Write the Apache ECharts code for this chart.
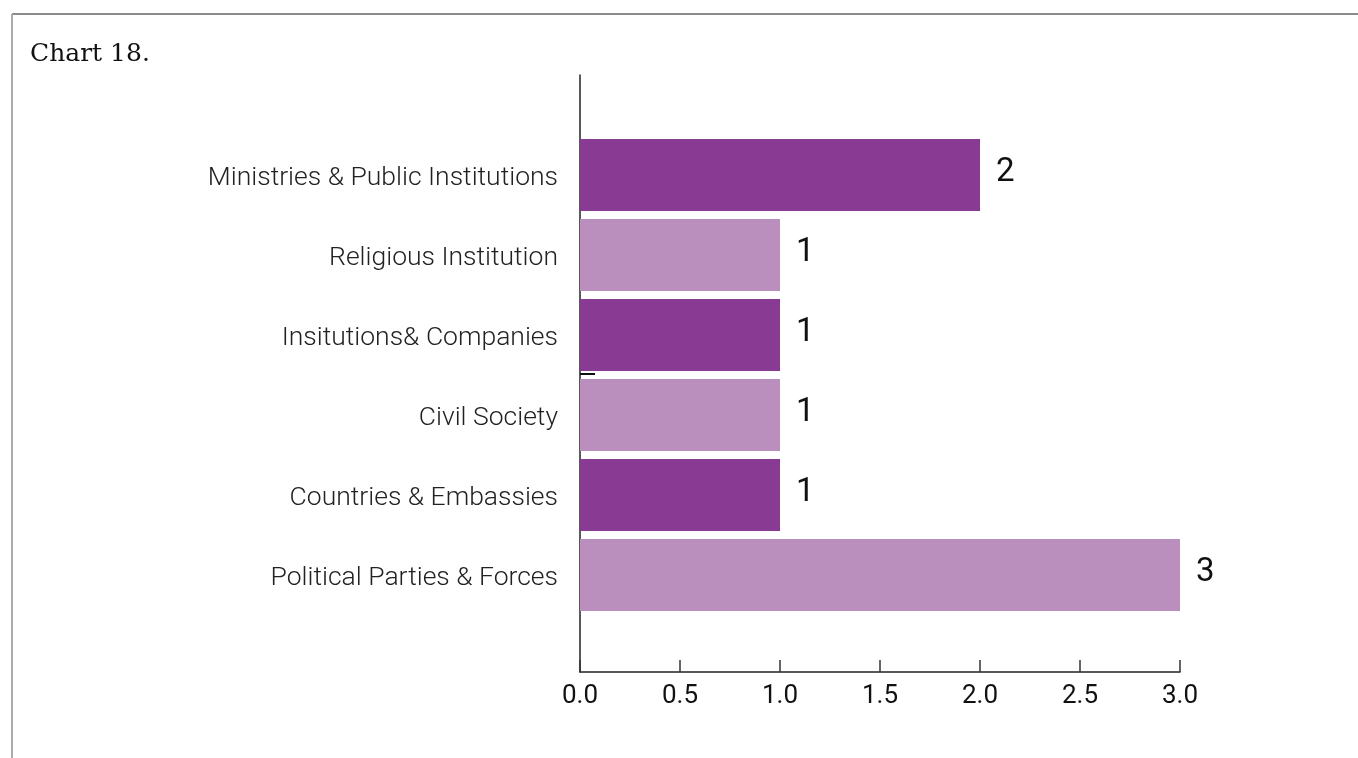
<!DOCTYPE html>
<html>
<head>
<meta charset="utf-8">
<script src="https://cdn.jsdelivr.net/npm/echarts@6/dist/echarts.min.js"></script>
<style>
  html, body { margin: 0; padding: 0; background: #fff; }
  #chart { width: 1358px; height: 758px; }
</style>
</head>
<body>
<div id="chart"></div>
<script>
// Categories, listed top to bottom
const categories = [
  'Ministries & Public Institutions',
  'Religious Institution',
  'Insitutions& Companies',
  'Civil Society',
  'Countries & Embassies',
  'Political Parties & Forces'
];
// Count per category
const values = [2, 1, 1, 1, 1, 3];
// Alternating bar colours
const barColors = ['#893A93', '#BB8FBD'];
// Value-axis tick range
const xMin = 0, xMax = 3, xStep = 0.5;

const font = 'Roboto, "Noto Sans", sans-serif';

const chart = echarts.init(document.getElementById('chart'), null, { renderer: 'canvas' });

chart.setOption({
  animation: false,
  backgroundColor: '#fff',
  title: {
    text: 'Chart 18.',
    left: 25,
    top: 37,
    textStyle: { fontFamily: '"DejaVu Serif", serif', fontSize: 25, fontWeight: 'normal', color: '#111' }
  },
  graphic: [
    { type: 'line', shape: { x1: 12, y1: 14, x2: 1358, y2: 14 }, style: { stroke: '#8c8c8c', lineWidth: 2 } },
    { type: 'line', shape: { x1: 12, y1: 14, x2: 12, y2: 758 }, style: { stroke: '#ababab', lineWidth: 2 } }
  ],
  grid: [
    // bars
    { left: 580, right: 178, top: 135, bottom: 143, containLabel: false },
    // axes frame
    { left: 580, right: 178, top: 75, bottom: 86, containLabel: false }
  ],
  xAxis: [
    { gridIndex: 0, type: 'value', min: xMin, max: xMax, show: false },
    {
      gridIndex: 1, type: 'value', min: xMin, max: xMax, interval: xStep,
      axisLine: { show: true, lineStyle: { color: '#222', width: 1.5 } },
      axisTick: { show: true, inside: true, length: 12, lineStyle: { color: '#333', width: 1.5 } },
      axisLabel: {
        fontFamily: font, fontSize: 26, color: '#111', margin: 11,
        formatter: v => v.toFixed(1)
      },
      splitLine: { show: false }
    }
  ],
  yAxis: [
    {
      gridIndex: 0, type: 'category', data: categories, inverse: true,
      axisLine: { show: false },
      axisTick: { show: false },
      axisLabel: {
        fontFamily: font, fontSize: 26.5, fontWeight: 300, color: '#222', margin: 22,
        verticalAlign: 'top', lineHeight: 6
      }
    },
    {
      gridIndex: 1, type: 'value', min: 0, max: 2, interval: 1,
      axisLine: { show: true, lineStyle: { color: '#222', width: 1.5 } },
      axisTick: { show: true, inside: true, length: 15, customValues: [1], lineStyle: { color: '#111', width: 2 } },
      axisLabel: { show: false },
      splitLine: { show: false }
    }
  ],
  series: [
    {
      type: 'bar',
      xAxisIndex: 0,
      yAxisIndex: 0,
      barCategoryGap: '10%',
      data: values.map((v, i) => ({ value: v, itemStyle: { color: barColors[i % 2] } })),
      label: {
        show: true,
        position: 'right',
        distance: 16,
        offset: [0, -2],
        fontFamily: font,
        fontSize: 33,
        color: '#111'
      }
    }
  ]
});
</script>
</body>
</html>
